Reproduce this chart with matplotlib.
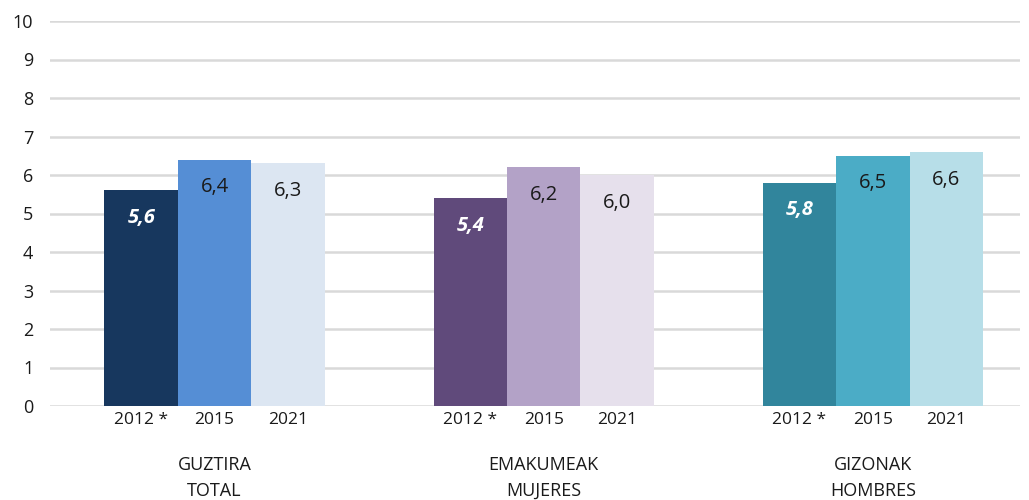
import numpy as np
import matplotlib
matplotlib.use("Agg")
import matplotlib.pyplot as plt

plt.rcParams['font.family'] = ['Open Sans', 'DejaVu Sans']

# data
groups = ["GUZTIRA\nTOTAL", "EMAKUMEAK\nMUJERES", "GIZONAK\nHOMBRES"]
years = ["2012 *", "2015", "2021"]
v2012 = [5.6, 5.4, 5.8]
v2015 = [6.4, 6.2, 6.5]
v2021 = [6.3, 6.0, 6.6]
colors = [
    ["#17375E", "#558ED5", "#DCE6F2"],
    ["#604A7B", "#B3A2C7", "#E6E0EC"],
    ["#31859C", "#4BACC6", "#B7DEE8"],
]

fig = plt.figure(figsize=(10.29, 5.0), dpi=100)
ax = fig.add_axes([50 / 1029, 94 / 500, 970 / 1029, 385 / 500])

w = 0.223
x = np.arange(len(groups))
series = [v2012, v2015, v2021]
for j, vals in enumerate(series):
    for i, v in enumerate(vals):
        xpos = x[i] + (j - 1) * w
        ax.bar(xpos, v, width=w, color=colors[i][j], zorder=3)
        if j == 0:
            ax.text(xpos, v - 0.72, f"{v:.1f}".replace(".", ","), ha="center", va="center",
                    color="white", fontsize=14.5, fontweight="bold", fontstyle="italic", zorder=4)
        else:
            ax.text(xpos, v - 0.72, f"{v:.1f}".replace(".", ","), ha="center", va="center",
                    color="#1a1a1a", fontsize=14.5, zorder=4)
        ax.text(xpos, -0.15, years[j], ha="center", va="top", fontsize=12.5,
                color="#1a1a1a")
    ax.text(x[j], -1.3, groups[j], ha="center", va="top", fontsize=13,
            color="#1a1a1a", linespacing=1.55)

ax.set_xlim(-0.5, 2.447)
ax.set_ylim(0, 10)
ax.set_yticks(range(0, 11))
ax.set_xticks([])
ax.grid(axis="y", color="#D9D9D9", linewidth=1.8, zorder=0)
for s in ax.spines.values():
    s.set_visible(False)
ax.tick_params(axis="y", length=0, pad=12, labelsize=13, labelcolor="#1a1a1a")

fig.savefig("out.png", dpi=100)
